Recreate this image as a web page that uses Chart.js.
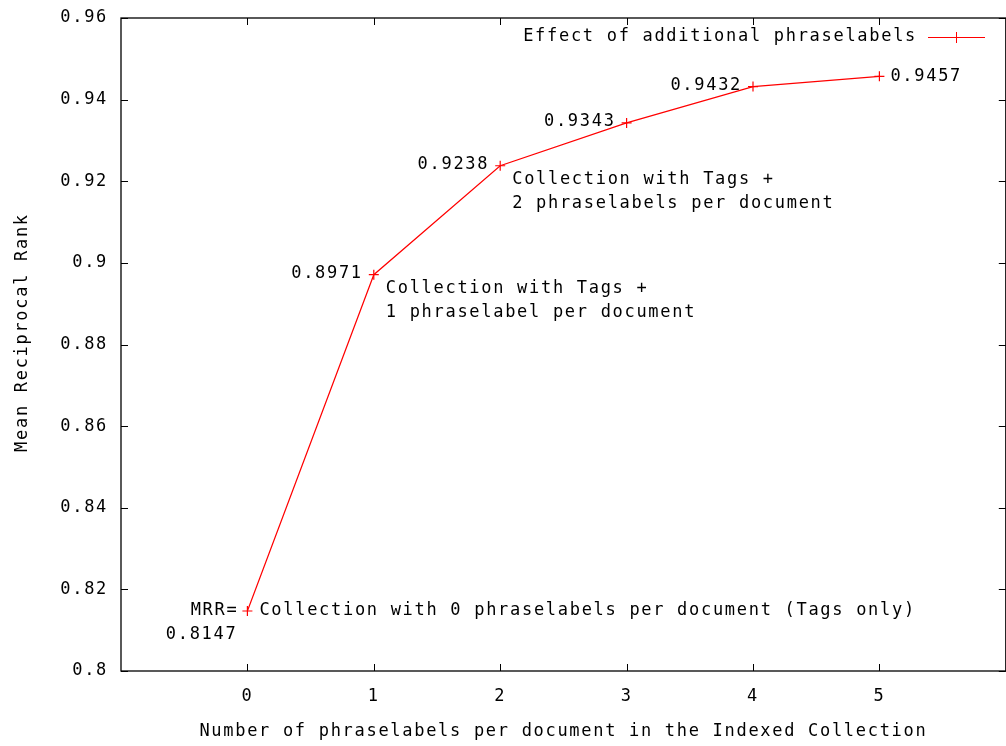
<!DOCTYPE html>
<html>
<head>
<meta charset="utf-8">
<script src="https://cdn.jsdelivr.net/npm/chart.js@4/dist/chart.umd.min.js"></script>
<style>
  html, body { margin: 0; padding: 0; background: #fff; overflow: hidden; }
  #wrap { width: 1012px; height: 746px; }
</style>
</head>
<body>
<div id="wrap"><canvas id="grafica"></canvas></div>
<script>
// ========== DATOS ==========
const xValues = [0, 1, 2, 3, 4, 5];
const mrrValues = [0.8147, 0.8971, 0.9238, 0.9343, 0.9432, 0.9457];
const xTicks = [0, 1, 2, 3, 4, 5];
const yTicks = [0.8, 0.82, 0.84, 0.86, 0.88, 0.9, 0.92, 0.94, 0.96];
const seriesLabel = 'Effect of additional phraselabels';
const valueLabels = ['MRR=\n0.8147', '0.8971', '0.9238', '0.9343', '0.9432', '0.9457'];
const noteLabels = [
  'Collection with 0 phraselabels per document (Tags only)',
  'Collection with Tags +\n1 phraselabel per document',
  'Collection with Tags +\n2 phraselabels per document',
  '', '', ''
];
const xTitle = 'Number of phraselabels per document in the Indexed Collection';
const yTitle = '  Mean Reciprocal Rank';

const FONT = '"DejaVu Sans Mono", "Liberation Mono", monospace';
const ROJO = '#ff0000';
const TEXTO = '#000';

// ========== PLUGIN: marco, ticks internos, leyenda y anotaciones ==========
const gnuplotPlugin = {
  id: 'gnuplot',
  beforeDraw(chart) {
    chart.ctx.letterSpacing = '1.7px';
  },
  afterDraw(chart) {
    const ctx = chart.ctx;
    const a = chart.chartArea;
    const sx = chart.scales.x;
    const sy = chart.scales.y;

    ctx.save();
    ctx.letterSpacing = '1.7px';
    // marco
    ctx.strokeStyle = '#000';
    ctx.lineWidth = 1.3;
    ctx.strokeRect(a.left, a.top, a.right - a.left, a.bottom - a.top);

    // ticks hacia dentro
    ctx.lineWidth = 1;
    ctx.beginPath();
    xTicks.forEach(v => {
      const px = Math.round(sx.getPixelForValue(v)) + 0.5;
      ctx.moveTo(px, a.bottom); ctx.lineTo(px, a.bottom - 7);
      ctx.moveTo(px, a.top); ctx.lineTo(px, a.top + 7);
    });
    yTicks.forEach(v => {
      const py = Math.round(sy.getPixelForValue(v)) + 0.5;
      ctx.moveTo(a.left, py); ctx.lineTo(a.left + 7, py);
      ctx.moveTo(a.right, py); ctx.lineTo(a.right - 7, py);
    });
    ctx.stroke();

    // leyenda
    ctx.font = '17px ' + FONT;
    ctx.fillStyle = TEXTO;
    ctx.textAlign = 'right';
    ctx.textBaseline = 'middle';
    const ly = 37;
    ctx.fillText(seriesLabel, 917, ly);
    ctx.strokeStyle = ROJO;
    ctx.beginPath();
    ctx.moveTo(928, ly + 0.5); ctx.lineTo(985, ly + 0.5);
    ctx.moveTo(956.5, ly - 5); ctx.lineTo(956.5, ly + 6);
    ctx.stroke();

    // anotaciones
    ctx.fillStyle = TEXTO;
    xValues.forEach((xv, i) => {
      const px = sx.getPixelForValue(xv);
      const py = sy.getPixelForValue(mrrValues[i]);
      // etiqueta del valor
      const lines = valueLabels[i].split('\n');
      if (i === mrrValues.length - 1) {
        ctx.textAlign = 'left';
        ctx.fillText(lines[0], px + 11, py);
      } else if (i === 0) {
        ctx.textAlign = 'right';
        ctx.fillText(lines[0], px - 9, py);
        ctx.fillText(lines[1], px - 10, py + 24);
      } else {
        ctx.textAlign = 'right';
        ctx.fillText(lines[0], px - 11, py - 1);
      }
      // nota descriptiva
      if (noteLabels[i]) {
        ctx.textAlign = 'left';
        const notas = noteLabels[i].split('\n');
        const dy = i === 0 ? 0 : 14;
        notas.forEach((t, k) => ctx.fillText(t, px + 12, py + dy + k * 24));
      }
    });
    ctx.restore();
  }
};

// ========== GRAFICA ==========
const ctx = document.getElementById('grafica');
new Chart(ctx, {
  type: 'line',
  data: {
    datasets: [{
      label: seriesLabel,
      data: xValues.map((x, i) => ({ x: x, y: mrrValues[i] })),
      borderColor: ROJO,
      backgroundColor: ROJO,
      borderWidth: 1.2,
      pointStyle: 'cross',
      pointRadius: 5,
      pointBorderWidth: 1.2,
      pointBorderColor: ROJO,
      tension: 0,
      fill: false
    }]
  },
  options: {
    responsive: true,
    maintainAspectRatio: false,
    animation: false,
    layout: { padding: { top: 18, right: 3, left: 0, bottom: 0 } },
    plugins: {
      legend: { display: false },
      tooltip: { enabled: false },
      title: { display: false }
    },
    scales: {
      x: {
        type: 'linear',
        min: -1,
        max: 6,
        afterFit(scale) {
          scale.height = 75;
          scale.paddingLeft = 0;
          scale.paddingRight = 0;
        },
        afterBuildTicks(scale) { scale.ticks = xTicks.map(v => ({ value: v })); },
        grid: { display: false, drawTicks: false },
        border: { display: false },
        ticks: {
          padding: 15,
          color: TEXTO,
          font: { family: FONT, size: 17 },
          maxRotation: 0,
          callback: v => String(v)
        },
        title: {
          display: true,
          text: xTitle,
          color: TEXTO,
          font: { family: FONT, size: 17 },
          padding: { top: 0, bottom: 4 }
        }
      },
      y: {
        type: 'linear',
        min: 0.8,
        max: 0.96,
        afterFit(scale) {
          scale.width = 121;
          scale.paddingTop = 0;
          scale.paddingBottom = 0;
        },
        afterBuildTicks(scale) { scale.ticks = yTicks.map(v => ({ value: v })); },
        grid: { display: false, drawTicks: false },
        border: { display: false },
        ticks: {
          padding: 13,
          color: TEXTO,
          font: { family: FONT, size: 17 },
          callback: v => String(Number(v.toFixed(2)))
        },
        title: {
          display: true,
          text: yTitle,
          color: TEXTO,
          font: { family: FONT, size: 17 },
          padding: { top: 12, bottom: 0 }
        }
      }
    }
  },
  plugins: [gnuplotPlugin]
});
</script>
</body>
</html>
